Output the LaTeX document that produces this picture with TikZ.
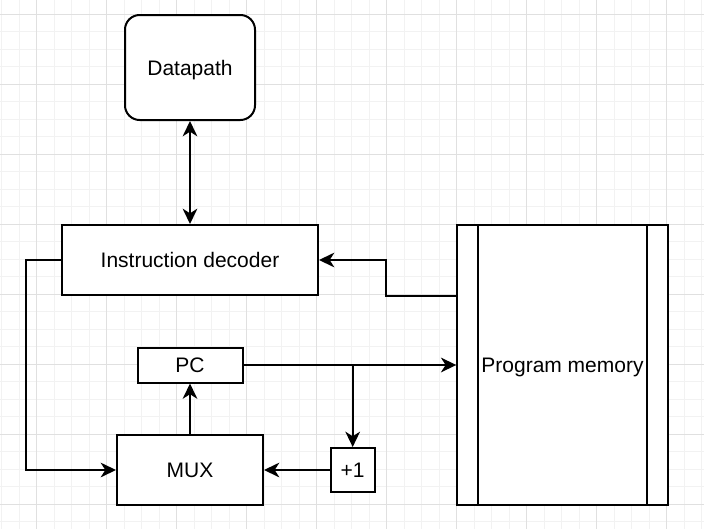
\documentclass[tikz,border=0pt]{standalone}
\usepackage{fontspec}
\setmainfont{Liberation Sans}
\usetikzlibrary{arrows.meta}
\tikzset{
    box/.style={draw, line width=1.5pt, fill=white, inner sep=0pt, align=center,
        text height=11.3pt, text depth=0pt,
        font=\fontsize{15.75}{18}\selectfont},
    link/.style={line width=1.5pt, -{Stealth[length=11.5pt, width=11pt, inset=3.5pt]}},
    twoway/.style={line width=1.5pt, {Stealth[length=11.5pt, width=11pt, inset=3.5pt]}-{Stealth[length=11.5pt, width=11pt, inset=3.5pt]}},
    gridminor/.style={line width=0.75pt, color={rgb,255:red,242;green,242;blue,242}},
    gridmajor/.style={line width=0.75pt, color={rgb,255:red,224;green,224;blue,224}},
}

\begin{document}
\begin{tikzpicture}[x=0.75pt, y=-0.75pt]
    \useasboundingbox (0,0) rectangle (704,529);
    \fill[white] (0,0) rectangle (704,529);
    % background grid
    \foreach \k in {0,...,40}
        \draw[gridminor] ({1.7+17.5*\k},0) -- ++(0,529);
    \foreach \k in {0,...,29}
        \draw[gridminor] (0,{14.3+17.5*\k}) -- ++(704,0);
    \foreach \k in {0,...,9}
        \draw[gridmajor] ({36.7+70*\k},0) -- ++(0,529);
    \foreach \k in {0,...,7}
        \draw[gridmajor] (0,{14.3+70*\k}) -- ++(704,0);

    \node[box, rounded corners=11pt, minimum width=97.5pt, minimum height=78.75pt] (datapath) at (190,67.5) {Datapath};
    \node[box, minimum width=192pt, minimum height=52.5pt] (decoder) at (190,260) {Instruction decoder};
    \node[box, minimum width=78.75pt, minimum height=26.25pt] (pc) at (190,365) {PC};
    \node[box, minimum width=109.5pt, minimum height=52.5pt] (mux) at (190,470) {MUX};
    \node[box, minimum width=33pt, minimum height=33pt] (inc) at (352.7,470) {+1};
    \node[box, minimum width=157.8pt, minimum height=210pt] (progmem) at (562.5,365) {Program memory};
    \draw[line width=1.5pt] ([xshift=16pt]progmem.north west) -- ([xshift=16pt]progmem.south west);
    \draw[line width=1.5pt] ([xshift=-16pt]progmem.north east) -- ([xshift=-16pt]progmem.south east);

    \draw[twoway] (datapath) -- (decoder);
    \draw[link] (progmem.west |- decoder.south) -- ++(-70,0) |- (decoder.east);
    \draw[link] (decoder.west) -- ++(-35,0) |- (mux.west);
    \draw[link] (mux.north) -- (pc.south);
    \draw[link] (pc.east) -- (progmem.west);
    \coordinate (split) at (inc.north |- pc.east);
    \draw[link] (split) -- (inc.north);
    \draw[link] (inc.west) -- (mux.east);
\end{tikzpicture}
\end{document}
